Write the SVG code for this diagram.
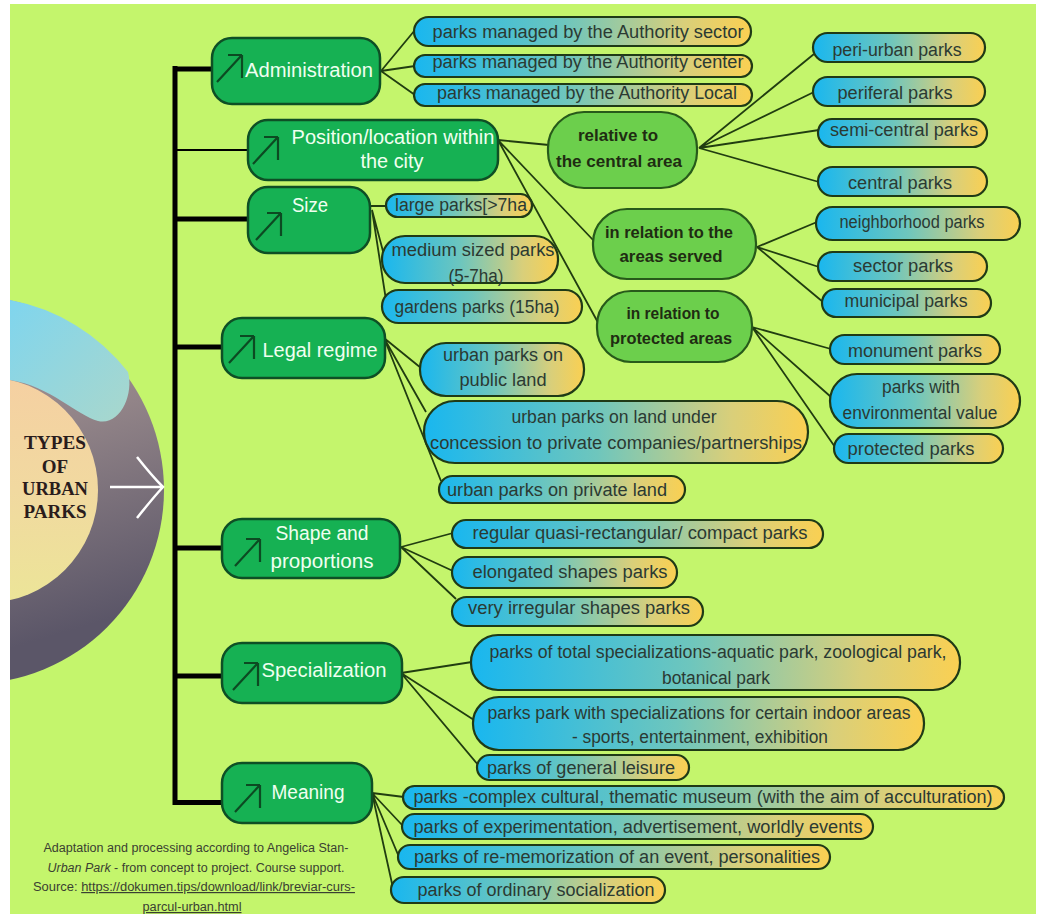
<svg xmlns="http://www.w3.org/2000/svg" width="1046" height="918" viewBox="0 0 1046 918">
<defs>
<linearGradient id="leafGrad" x1="0" y1="0" x2="1" y2="0">
<stop offset="0" stop-color="#19b7ef"/>
<stop offset="0.45" stop-color="#6ec6bd"/>
<stop offset="0.8" stop-color="#d9cf7a"/>
<stop offset="1" stop-color="#fad052"/>
</linearGradient>
<linearGradient id="ringGrad" x1="0" y1="0" x2="0.3" y2="1">
<stop offset="0" stop-color="#b9a29c"/>
<stop offset="0.5" stop-color="#928488"/>
<stop offset="1" stop-color="#5b5668"/>
</linearGradient>
<linearGradient id="innerGrad" x1="0" y1="0" x2="0" y2="1">
<stop offset="0" stop-color="#f5d0a2"/>
<stop offset="0.5" stop-color="#f1d9a0"/>
<stop offset="1" stop-color="#ece598"/>
</linearGradient>
<linearGradient id="capGrad" x1="0" y1="0" x2="1" y2="1">
<stop offset="0" stop-color="#7fd5ee"/>
<stop offset="1" stop-color="#a9d7cc"/>
</linearGradient>
<symbol id="icon" overflow="visible">
<path d="M0,28 L24,2 M11,1 H25 M25,1 V24" fill="none" stroke="#0c4a22" stroke-width="2.2"/>
</symbol>
<style>
.cat{fill:#16b153;stroke:#0e4f25;stroke-width:2.5}
.sub{fill:#6ccf4c;stroke:#275a1a;stroke-width:2.2}
.leaf{fill:url(#leafGrad);stroke:#1f3a16;stroke-width:2.2}
.ct{font-family:"Liberation Sans",Arial,sans-serif;font-size:20px;fill:#f0fff0;text-anchor:middle}
.st{font-family:"Liberation Sans",Arial,sans-serif;font-size:17px;font-weight:bold;fill:#1f2c12;text-anchor:middle}
.lt{font-family:"Liberation Sans",Arial,sans-serif;font-size:18px;fill:#2b3a33;text-anchor:middle}
.con{fill:none;stroke:#213d10;stroke-width:1.8}
.trunk{fill:none;stroke:#000;stroke-width:5}
.fn{font-family:"Liberation Sans",Arial,sans-serif;font-size:12px;fill:#3a4032;text-anchor:middle}
</style>
</defs>
<rect x="0" y="0" width="1046" height="918" fill="#ffffff"/>
<rect x="10" y="4" width="1026" height="910" fill="#c4f56c"/>

<g id="title">
<circle cx="-30" cy="490" r="194" fill="url(#ringGrad)"/>
<circle cx="-15" cy="490" r="113" fill="url(#innerGrad)"/>
<path d="M10,300 A194,194 0 0 1 128,372 C134,395 120,426 98,421 C78,416 50,386 10,380 Z" fill="url(#capGrad)"/>
<rect x="0" y="280" width="10" height="420" fill="#ffffff"/>
<g font-family="Liberation Serif,Times New Roman,serif" font-weight="bold" font-size="19" fill="#2a1c1c" text-anchor="middle">
<text x="55" y="449" textLength="62" lengthAdjust="spacingAndGlyphs">TYPES</text>
<text x="55" y="473">OF</text>
<text x="55" y="495" textLength="66" lengthAdjust="spacingAndGlyphs">URBAN</text>
<text x="55" y="518" textLength="63" lengthAdjust="spacingAndGlyphs">PARKS</text>
</g>
<path d="M110,487 H163 M137,457 Q152,476 163,487 Q152,499 137,518" fill="none" stroke="#ffffff" stroke-width="2.5"/>
</g>

<g id="connectors">
<path class="trunk" d="M175,66 V805"/>
<path class="trunk" d="M173,69 H213"/>
<path fill="none" stroke="#000" stroke-width="2" d="M175,150 H249"/>
<path class="trunk" d="M175,219 H249"/>
<path class="trunk" d="M175,347 H223"/>
<path class="trunk" d="M175,548 H223"/>
<path class="trunk" d="M175,676 H223"/>
<path class="trunk" d="M173,802.5 H223"/>
<path class="con" d="M381,71 L415,30 M381,71 L415,66 M381,71 L415,95"/>
<path class="con" d="M498,140 L549,145 M498,140 L594,241 M498,140 L601,328"/>
<path class="con" d="M699,148 L814,54 M699,148 L814,92 M699,148 L819,130 M699,148 L819,182"/>
<path class="con" d="M757,247 L817,222 M757,247 L819,267 M757,247 L823,302"/>
<path class="con" d="M752,327 L831,349 M752,327 L831,397 M752,327 L835,447"/>
<path class="con" d="M370,206 L387,206 M372,210 L384,255 M372,210 L386,300"/>
<path class="con" d="M384,338 L421,368 M384,338 L426,412 M384,338 L441,481"/>
<path class="con" d="M401,547 L453,533 M401,547 L453,571 M401,547 L456,599"/>
<path class="con" d="M401,673 L472,662 M401,673 L474,720 M401,673 L479,766"/>
<path class="con" d="M372,793 L404,797 M372,793 L403,826 M372,793 L399,857 M372,793 L393,888"/>
</g>

<g id="administration">
<rect class="cat" x="212" y="38" width="168" height="66" rx="20"/>
<use href="#icon" x="217" y="54"/>
<text class="ct" x="309" y="77" textLength="128" lengthAdjust="spacingAndGlyphs">Administration</text>
</g>
<g id="position">
<rect class="cat" x="248" y="120" width="250" height="60" rx="20"/>
<use href="#icon" x="253" y="136"/>
<text class="ct" x="393" y="144" textLength="203" lengthAdjust="spacingAndGlyphs">Position/location within</text>
<text class="ct" x="392" y="168" textLength="63" lengthAdjust="spacingAndGlyphs">the city</text>
</g>
<g id="size">
<rect class="cat" x="248" y="187" width="122" height="66" rx="20"/>
<use href="#icon" x="256" y="212"/>
<text class="ct" x="310" y="212" textLength="36" lengthAdjust="spacingAndGlyphs">Size</text>
</g>
<g id="legal">
<rect class="cat" x="222" y="318" width="163" height="60" rx="20"/>
<use href="#icon" x="229" y="335"/>
<text class="ct" x="320" y="357" textLength="115" lengthAdjust="spacingAndGlyphs">Legal regime</text>
</g>
<g id="shape">
<rect class="cat" x="222" y="519" width="178" height="59" rx="20"/>
<use href="#icon" x="235" y="538"/>
<text class="ct" x="322" y="540" textLength="93" lengthAdjust="spacingAndGlyphs">Shape and</text>
<text class="ct" x="322" y="568" textLength="103" lengthAdjust="spacingAndGlyphs">proportions</text>
</g>
<g id="specialization">
<rect class="cat" x="222" y="643" width="180" height="60" rx="20"/>
<use href="#icon" x="233" y="662"/>
<text class="ct" x="324" y="677" textLength="125" lengthAdjust="spacingAndGlyphs">Specialization</text>
</g>
<g id="meaning">
<rect class="cat" x="222" y="763" width="150" height="60" rx="20"/>
<use href="#icon" x="235" y="784"/>
<text class="ct" x="308" y="799" textLength="73" lengthAdjust="spacingAndGlyphs">Meaning</text>
</g>

<g id="relative-central">
<rect class="sub" x="548" y="112" width="149" height="76" rx="36"/>
<text class="st" x="618" y="141" textLength="80" lengthAdjust="spacingAndGlyphs">relative to</text>
<text class="st" x="619" y="167" textLength="126" lengthAdjust="spacingAndGlyphs">the central area</text>
</g>
<g id="areas-served">
<rect class="sub" x="593" y="209" width="163" height="70" rx="34"/>
<text class="st" x="669" y="238" textLength="128" lengthAdjust="spacingAndGlyphs">in relation to the</text>
<text class="st" x="671" y="262" textLength="103" lengthAdjust="spacingAndGlyphs">areas served</text>
</g>
<g id="protected-areas">
<rect class="sub" x="597" y="291" width="155" height="71" rx="34"/>
<text class="st" x="673" y="319" textLength="93" lengthAdjust="spacingAndGlyphs">in relation to</text>
<text class="st" x="671" y="344" textLength="122" lengthAdjust="spacingAndGlyphs">protected areas</text>
</g>

<g id="adm-sector"><rect class="leaf" x="414" y="17" width="337" height="29" rx="14.5"/><text class="lt" x="588" y="38" textLength="311" lengthAdjust="spacingAndGlyphs">parks managed by the Authority sector</text></g>
<g id="adm-center"><rect class="leaf" x="414" y="55" width="338" height="22" rx="11"/><text class="lt" x="588" y="68" textLength="311" lengthAdjust="spacingAndGlyphs">parks managed by the Authority center</text></g>
<g id="adm-local"><rect class="leaf" x="414" y="84" width="338" height="22" rx="11"/><text class="lt" x="587" y="99" textLength="300" lengthAdjust="spacingAndGlyphs">parks managed by the Authority Local</text></g>

<g id="peri-urban"><rect class="leaf" x="813" y="33" width="172" height="29" rx="14.5"/><text class="lt" x="897" y="56" textLength="129" lengthAdjust="spacingAndGlyphs">peri-urban parks</text></g>
<g id="periferal"><rect class="leaf" x="813" y="77" width="172" height="29" rx="14.5"/><text class="lt" x="895" y="99" textLength="115" lengthAdjust="spacingAndGlyphs">periferal parks</text></g>
<g id="semi-central"><rect class="leaf" x="818" y="119" width="169" height="28" rx="14"/><text class="lt" x="904" y="136" textLength="148" lengthAdjust="spacingAndGlyphs">semi-central parks</text></g>
<g id="central"><rect class="leaf" x="818" y="167" width="169" height="29" rx="14.5"/><text class="lt" x="900" y="189" textLength="104" lengthAdjust="spacingAndGlyphs">central parks</text></g>
<g id="neighborhood"><rect class="leaf" x="816" y="207" width="204" height="33" rx="16.5"/><text class="lt" x="912" y="228" textLength="145" lengthAdjust="spacingAndGlyphs">neighborhood parks</text></g>
<g id="sector"><rect class="leaf" x="818" y="252" width="169" height="29" rx="14.5"/><text class="lt" x="903" y="272" textLength="100" lengthAdjust="spacingAndGlyphs">sector parks</text></g>
<g id="municipal"><rect class="leaf" x="822" y="289" width="169" height="28" rx="14"/><text class="lt" x="906" y="307" textLength="123" lengthAdjust="spacingAndGlyphs">municipal parks</text></g>
<g id="monument"><rect class="leaf" x="830" y="335" width="170" height="29" rx="14.5"/><text class="lt" x="915" y="357" textLength="134" lengthAdjust="spacingAndGlyphs">monument parks</text></g>
<g id="environmental"><rect class="leaf" x="830" y="374" width="190" height="54" rx="27"/><text class="lt" x="921" y="393" textLength="78" lengthAdjust="spacingAndGlyphs">parks with</text><text class="lt" x="920" y="419" textLength="155" lengthAdjust="spacingAndGlyphs">environmental value</text></g>
<g id="protected"><rect class="leaf" x="834" y="434" width="169" height="29" rx="14.5"/><text class="lt" x="911" y="455" textLength="127" lengthAdjust="spacingAndGlyphs">protected parks</text></g>

<g id="large"><rect class="leaf" x="386" y="194" width="146" height="23" rx="11.5"/><text class="lt" x="461" y="211" textLength="132" lengthAdjust="spacingAndGlyphs">large parks[&gt;7ha</text></g>
<g id="medium"><rect class="leaf" x="382" y="236" width="176" height="47" rx="23"/><text class="lt" x="473" y="256" textLength="163" lengthAdjust="spacingAndGlyphs">medium sized  parks</text><text class="lt" x="476" y="282" textLength="55" lengthAdjust="spacingAndGlyphs">(5-7ha)</text></g>
<g id="gardens"><rect class="leaf" x="382" y="290" width="200" height="33" rx="16.5"/><text class="lt" x="477" y="313" textLength="165" lengthAdjust="spacingAndGlyphs">gardens parks (15ha)</text></g>

<g id="public-land"><rect class="leaf" x="420" y="343" width="164" height="53" rx="26"/><text class="lt" x="503" y="361" textLength="120" lengthAdjust="spacingAndGlyphs">urban parks on</text><text class="lt" x="503" y="386" textLength="87" lengthAdjust="spacingAndGlyphs">public land</text></g>
<g id="concession"><rect class="leaf" x="424" y="401" width="384" height="62" rx="31"/><text class="lt" x="614" y="423" textLength="205" lengthAdjust="spacingAndGlyphs">urban parks on land under</text><text class="lt" x="616" y="449" textLength="372" lengthAdjust="spacingAndGlyphs">concession to private companies/partnerships</text></g>
<g id="private-land"><rect class="leaf" x="439" y="476" width="246" height="27" rx="13.5"/><text class="lt" x="557" y="496" textLength="220" lengthAdjust="spacingAndGlyphs">urban parks on private land</text></g>

<g id="regular"><rect class="leaf" x="452" y="520" width="371" height="28" rx="14"/><text class="lt" x="640" y="539" textLength="335" lengthAdjust="spacingAndGlyphs">regular quasi-rectangular/ compact parks</text></g>
<g id="elongated"><rect class="leaf" x="452" y="557" width="225" height="31" rx="15.5"/><text class="lt" x="570" y="578" textLength="195" lengthAdjust="spacingAndGlyphs">elongated shapes parks</text></g>
<g id="irregular"><rect class="leaf" x="452" y="597" width="251" height="29" rx="14.5"/><text class="lt" x="579" y="614" textLength="222" lengthAdjust="spacingAndGlyphs">very irregular shapes  parks</text></g>

<g id="total-spec"><rect class="leaf" x="471" y="635" width="489" height="55" rx="27"/><text class="lt" x="718" y="658" textLength="457" lengthAdjust="spacingAndGlyphs">parks of total specializations-aquatic park, zoological park,</text><text class="lt" x="716" y="684" textLength="108" lengthAdjust="spacingAndGlyphs">botanical park</text></g>
<g id="indoor"><rect class="leaf" x="473" y="697" width="451" height="53" rx="26"/><text class="lt" x="699" y="719" textLength="423" lengthAdjust="spacingAndGlyphs">parks park with specializations for certain indoor areas</text><text class="lt" x="700" y="743" textLength="256" lengthAdjust="spacingAndGlyphs">- sports, entertainment, exhibition</text></g>
<g id="leisure"><rect class="leaf" x="477" y="755" width="212" height="25" rx="12.5"/><text class="lt" x="581" y="774" textLength="188" lengthAdjust="spacingAndGlyphs">parks of general leisure</text></g>

<g id="cultural"><rect class="leaf" x="403" y="786" width="601" height="23" rx="11.5"/><text class="lt" x="703" y="803" textLength="579" lengthAdjust="spacingAndGlyphs">parks -complex cultural, thematic museum (with the aim of acculturation)</text></g>
<g id="experimentation"><rect class="leaf" x="402" y="814" width="471" height="25" rx="12.5"/><text class="lt" x="638" y="833" textLength="449" lengthAdjust="spacingAndGlyphs">parks of experimentation, advertisement, worldly events</text></g>
<g id="rememorization"><rect class="leaf" x="398" y="845" width="432" height="24" rx="12"/><text class="lt" x="617" y="863" textLength="406" lengthAdjust="spacingAndGlyphs">parks of re-memorization of an event, personalities</text></g>
<g id="socialization"><rect class="leaf" x="391" y="877" width="274" height="26" rx="13"/><text class="lt" x="536" y="896" textLength="237" lengthAdjust="spacingAndGlyphs">parks of ordinary socialization</text></g>

<g id="footnote">
<text class="fn" x="196" y="852" textLength="305" lengthAdjust="spacingAndGlyphs">Adaptation and processing according to Angelica Stan-</text>
<text class="fn" x="196" y="872" textLength="297" lengthAdjust="spacingAndGlyphs"><tspan font-style="italic">Urban Park</tspan> - from concept to project. Course support.</text>
<text class="fn" x="194" y="891" textLength="322" lengthAdjust="spacingAndGlyphs">Source: <tspan text-decoration="underline">https://dokumen.tips/download/link/breviar-curs-</tspan></text>
<text class="fn" x="192" y="911" textLength="99" lengthAdjust="spacingAndGlyphs" text-decoration="underline">parcul-urban.html</text>
</g>
</svg>
